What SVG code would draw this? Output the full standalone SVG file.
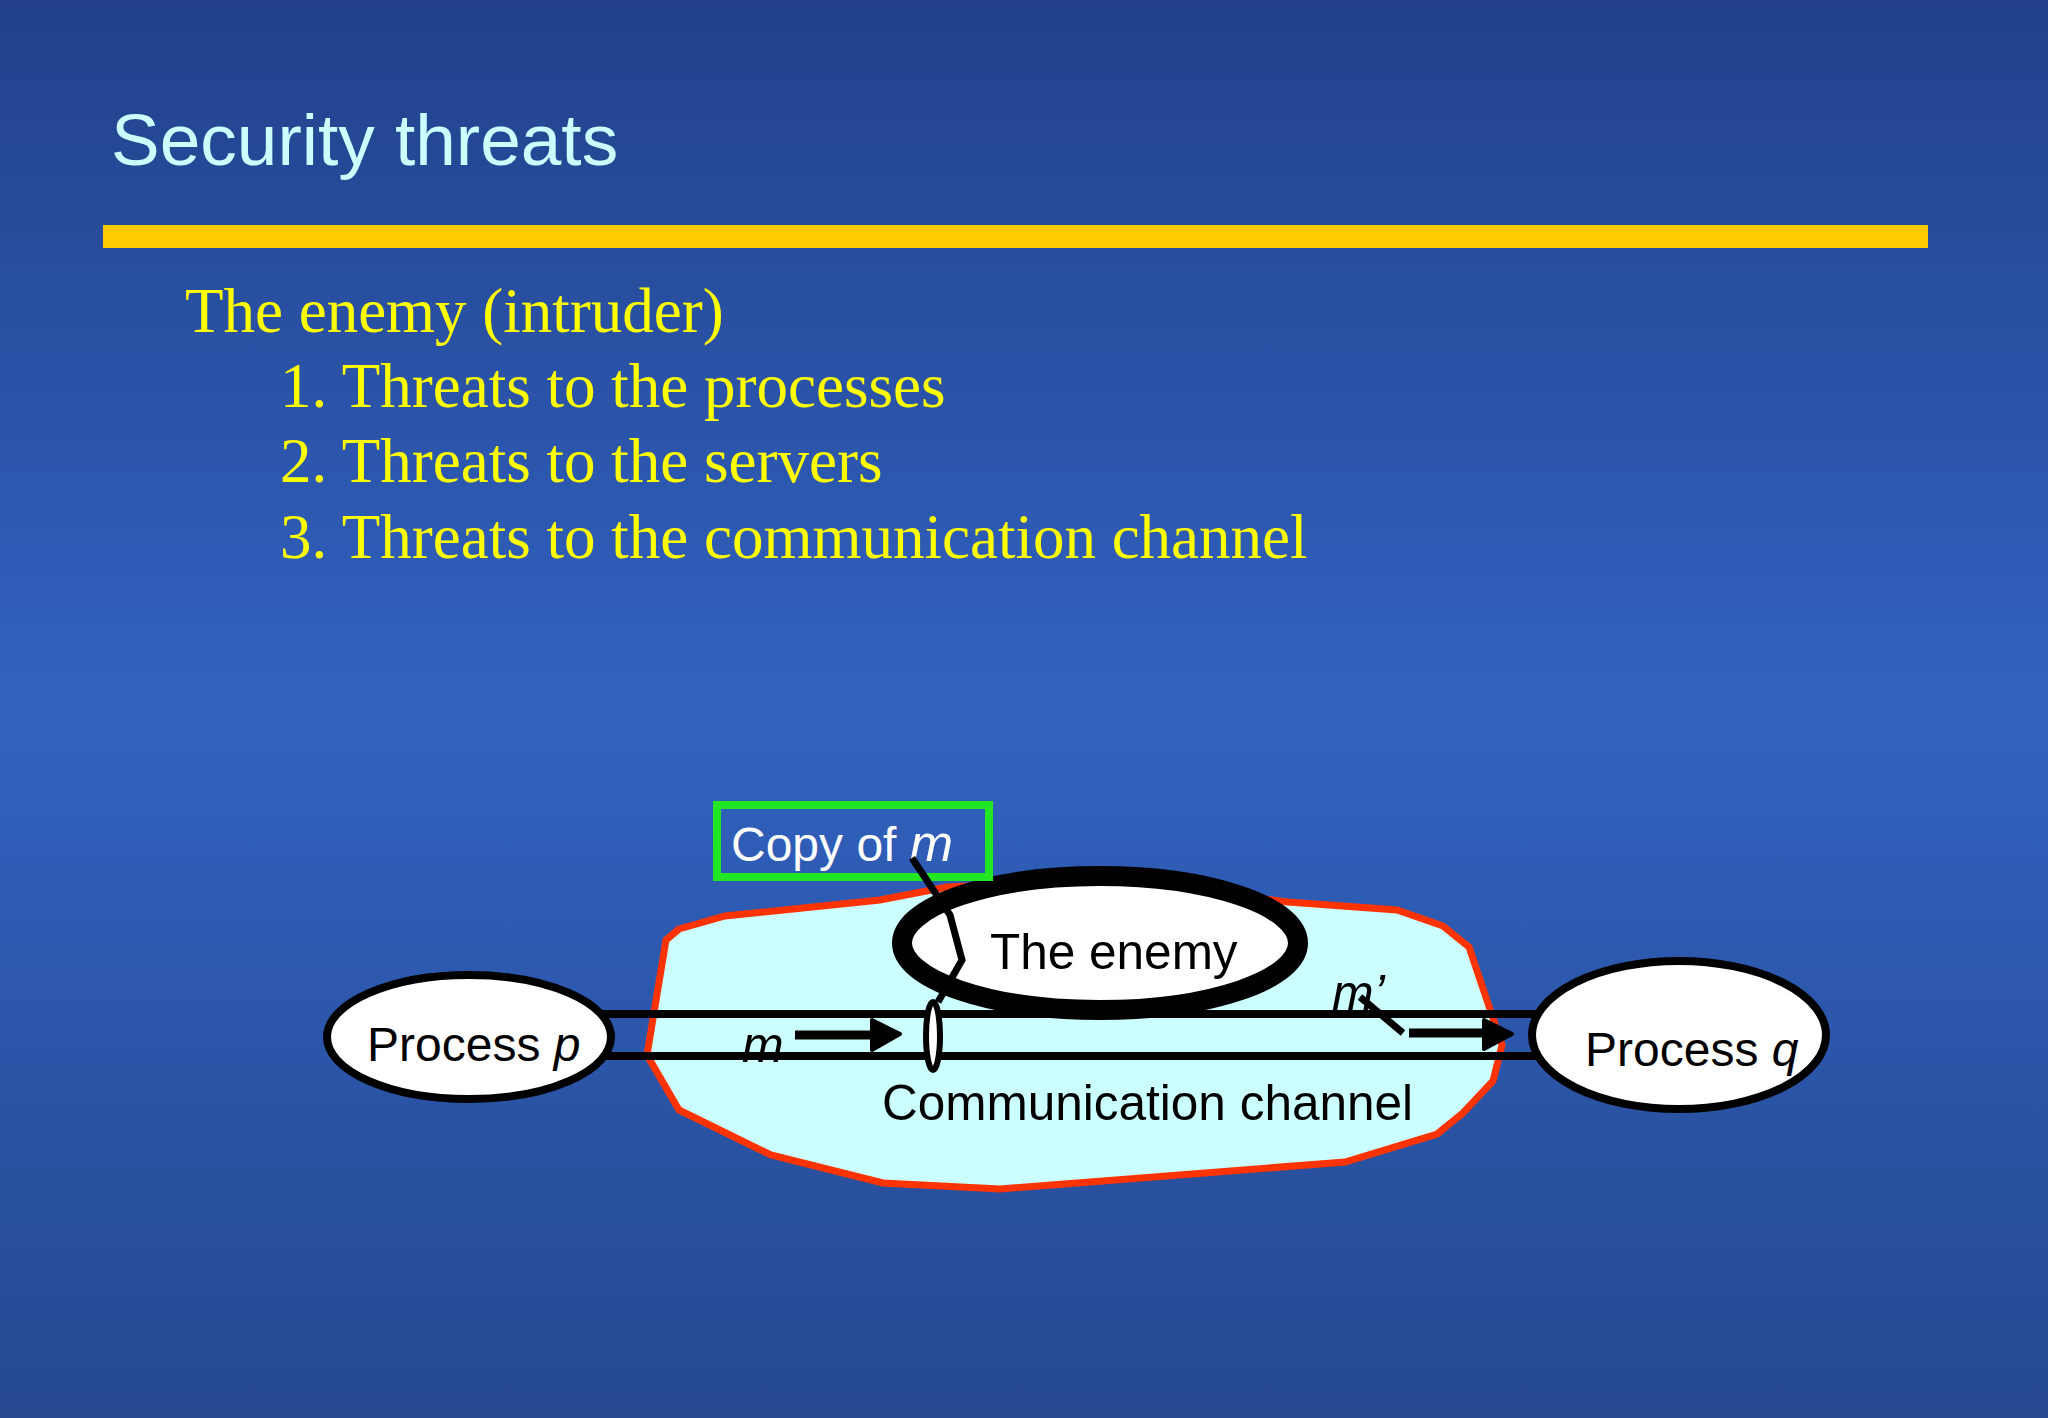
<svg xmlns="http://www.w3.org/2000/svg" width="2048" height="1418" viewBox="0 0 2048 1418">
<defs>
<linearGradient id="bg" x1="0" y1="0" x2="0" y2="1">
<stop offset="0" stop-color="#22418A"/>
<stop offset="0.5" stop-color="#3162C0"/>
<stop offset="1" stop-color="#25488F"/>
</linearGradient>
<style>
.sans{font-family:"Liberation Sans",Arial,sans-serif}
.serif{font-family:"Liberation Serif","Times New Roman",serif;fill:#FFFF00;font-size:63px}
.node{fill:#FFFFFF;stroke:#000000;stroke-width:8}
.lbl{font-family:"Liberation Sans",Arial,sans-serif;font-size:48px;fill:#000000}
.big{font-size:49.5px}
.msg{font-size:50px}
.it{font-style:italic}
.wire{stroke:#000000;fill:none;stroke-linecap:butt}
</style>
</defs>
<rect x="0" y="0" width="2048" height="1418" fill="url(#bg)"/>
<text class="sans" x="111" y="165" font-size="73" fill="#CCFFFF">Security threats</text>
<rect x="103" y="225" width="1825" height="23" fill="#FFCC00"/>
<text class="serif" x="185" y="332">The enemy (intruder)</text>
<text class="serif" x="280" y="407">1. Threats to the processes</text>
<text class="serif" x="280" y="482">2. Threats to the servers</text>
<text class="serif" x="280" y="558">3. Threats to the communication channel</text>

<g id="channel-area">
<polygon points="679,929 725,916 880,900 947,887 1110,880 1288,902 1397,910 1443,926 1469,947 1502,1045 1493,1081 1463,1113 1437,1134 1345,1162 1000,1189 883,1183 771,1155 679,1110 647,1055 666,940" fill="#CCFFFF" stroke="#FF3300" stroke-width="7" stroke-linejoin="miter"/>
<text class="lbl big" x="882" y="1120">Communication channel</text>
</g>

<g id="connectors">
<line class="wire" x1="560" y1="1014" x2="1560" y2="1014" stroke-width="8"/>
<line class="wire" x1="560" y1="1056" x2="1560" y2="1056" stroke-width="8"/>
</g>

<g id="enemy">
<ellipse cx="1100" cy="943" rx="198" ry="67" fill="#FFFFFF" stroke="#000000" stroke-width="20"/>
<text class="lbl big" x="990" y="969">The enemy</text>
</g>

<g id="copy-of-m">
<rect x="717" y="805" width="272" height="72" fill="none" stroke="#22E622" stroke-width="8"/>
<text class="sans" x="731" y="861" font-size="48" fill="#FFFFFF">Copy of <tspan class="it" font-size="52">m</tspan></text>
</g>

<g id="tap">
<polyline class="wire" points="912,858 950,915 962,960 938,1002" stroke-width="7" stroke-linejoin="miter"/>
<ellipse cx="933" cy="1036" rx="7" ry="34" fill="#FFFFFF" stroke="#000000" stroke-width="6"/>
</g>

<g id="msg-m">
<text class="lbl msg it" x="742" y="1062">m</text>
<line class="wire" x1="795" y1="1035" x2="874" y2="1035" stroke-width="9"/>
<polygon points="872,1020 900,1034 872,1050" fill="#000000" stroke="#000000" stroke-width="4" stroke-linejoin="round"/>
</g>

<g id="msg-m-prime">
<text class="lbl msg it" x="1332" y="1010">m’</text>
<line class="wire" x1="1360" y1="997" x2="1403" y2="1033" stroke-width="7"/>
<line class="wire" x1="1409" y1="1033" x2="1486" y2="1033" stroke-width="9"/>
<polygon points="1484,1020 1512,1034 1484,1049" fill="#000000" stroke="#000000" stroke-width="4" stroke-linejoin="round"/>
</g>

<g id="process-p">
<ellipse class="node" cx="469" cy="1037" rx="142" ry="62"/>
<text class="lbl" x="367" y="1061">Process <tspan class="it">p</tspan></text>
</g>

<g id="process-q">
<ellipse class="node" cx="1679" cy="1035" rx="147" ry="74"/>
<text class="lbl" x="1585" y="1066">Process <tspan class="it">q</tspan></text>
</g>
</svg>
